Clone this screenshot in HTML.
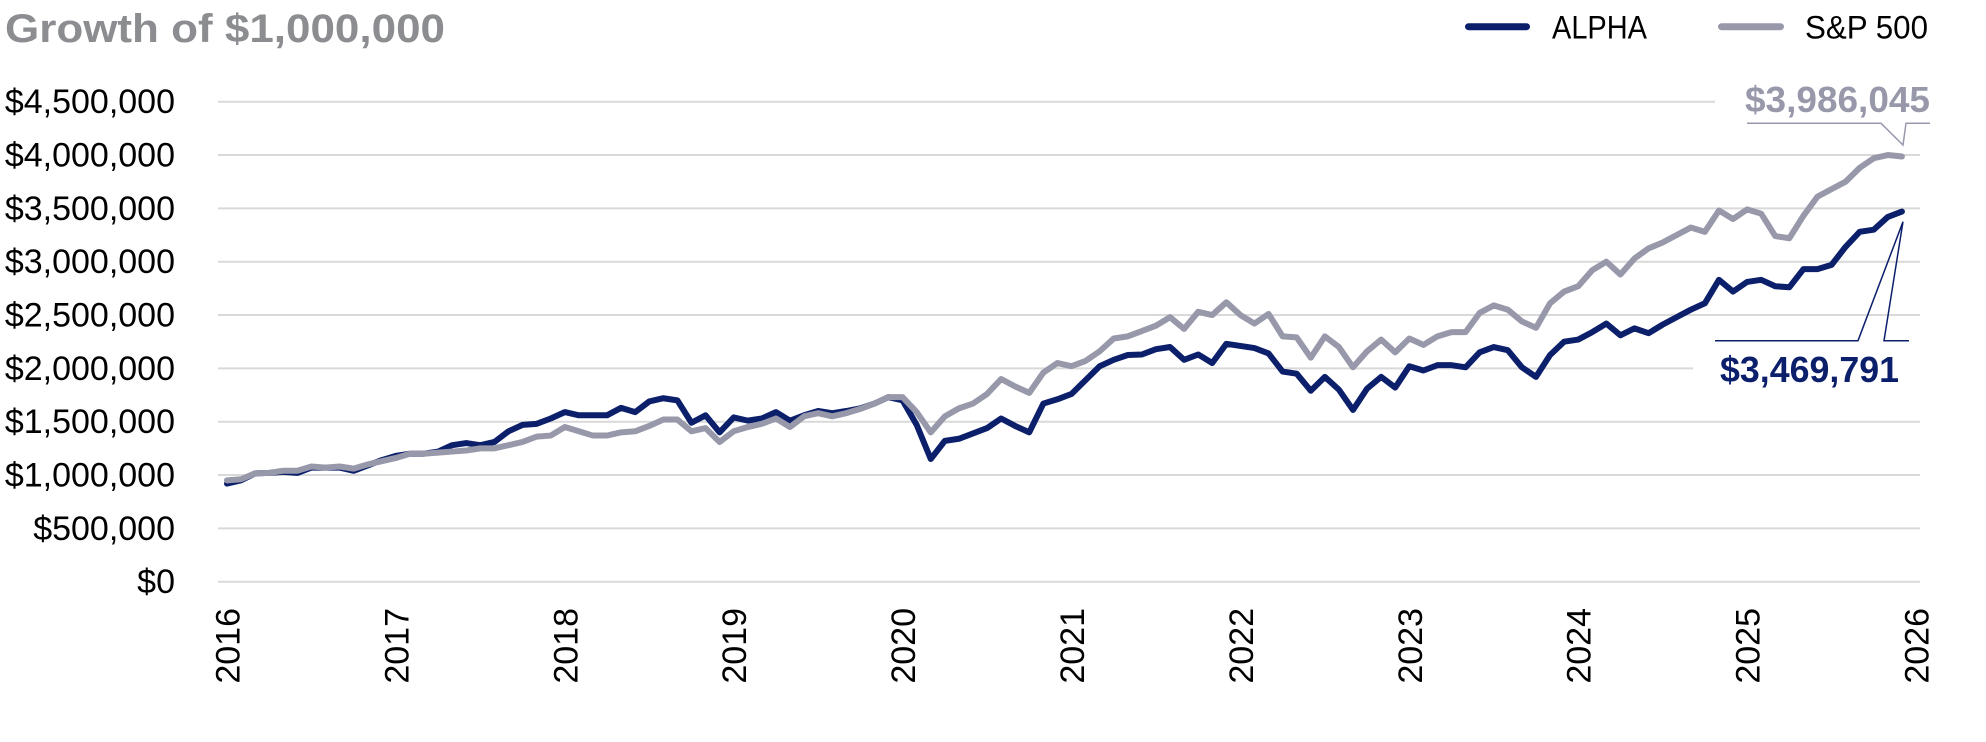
<!DOCTYPE html>
<html><head><meta charset="utf-8"><style>
html,body{margin:0;padding:0;background:#fff;}
svg{display:block;}
text{font-family:"Liberation Sans",Arial,sans-serif;}
</style></head><body>
<svg width="1986" height="742" viewBox="0 0 1986 742" xmlns="http://www.w3.org/2000/svg">
<rect width="1986" height="742" fill="#fff"/>
<!-- title -->
<text x="5" y="42" font-size="40" font-weight="bold" fill="#8b8d90" textLength="440" lengthAdjust="spacingAndGlyphs">Growth of $1,000,000</text>
<!-- legend -->
<line x1="1468.5" y1="26.7" x2="1526.5" y2="26.7" stroke="#0c1f6b" stroke-width="7" stroke-linecap="round"/>
<text x="1552" y="38.5" font-size="32" fill="#000" textLength="95" lengthAdjust="spacingAndGlyphs">ALPHA</text>
<line x1="1721.5" y1="26.7" x2="1780.5" y2="26.7" stroke="#9799ab" stroke-width="7" stroke-linecap="round"/>
<text x="1805" y="38.5" font-size="32" fill="#000" textLength="123" lengthAdjust="spacingAndGlyphs">S&amp;P 500</text>
<!-- gridlines -->
<g stroke="#d9d9d9" stroke-width="2">
<line x1="218" y1="101.7" x2="1715" y2="101.7"/>
<line x1="218" y1="155" x2="1920" y2="155"/>
<line x1="218" y1="208.4" x2="1920" y2="208.4"/>
<line x1="218" y1="261.7" x2="1920" y2="261.7"/>
<line x1="218" y1="315" x2="1920" y2="315"/>
<line x1="218" y1="368.4" x2="1693" y2="368.4"/>
<line x1="218" y1="421.7" x2="1920" y2="421.7"/>
<line x1="218" y1="475" x2="1920" y2="475"/>
<line x1="218" y1="528.4" x2="1920" y2="528.4"/>
<line x1="218" y1="581.7" x2="1920" y2="581.7"/>
</g>
<!-- y labels -->
<g font-size="34" fill="#000" text-anchor="end">
<text x="175" y="113.2">$4,500,000</text>
<text x="175" y="166.5">$4,000,000</text>
<text x="175" y="219.9">$3,500,000</text>
<text x="175" y="273.2">$3,000,000</text>
<text x="175" y="326.5">$2,500,000</text>
<text x="175" y="379.9">$2,000,000</text>
<text x="175" y="433.2">$1,500,000</text>
<text x="175" y="486.5">$1,000,000</text>
<text x="175" y="539.9">$500,000</text>
<text x="175" y="593.2">$0</text>
</g>
<!-- x labels -->
<g font-size="34" fill="#000" text-anchor="end">
<text transform="translate(239.5,608) rotate(-90)">2016</text>
<text transform="translate(408.4,608) rotate(-90)">2017</text>
<text transform="translate(577.3,608) rotate(-90)">2018</text>
<text transform="translate(746.2,608) rotate(-90)">2019</text>
<text transform="translate(915.1,608) rotate(-90)">2020</text>
<text transform="translate(1084,608) rotate(-90)">2021</text>
<text transform="translate(1252.9,608) rotate(-90)">2022</text>
<text transform="translate(1421.8,608) rotate(-90)">2023</text>
<text transform="translate(1590.7,608) rotate(-90)">2024</text>
<text transform="translate(1759.6,608) rotate(-90)">2025</text>
<text transform="translate(1928.5,608) rotate(-90)">2026</text>
</g>
<!-- series -->
<g transform="translate(227,581.7) scale(14.075,-106.67)" fill="none" stroke-linejoin="round" stroke-linecap="round">
<polyline vector-effect="non-scaling-stroke" stroke="#0c1f6b" stroke-width="6" points="0,0.92 1,0.95 2,1.016 3,1.02 4,1.03 5,1.02 6,1.07 7,1.07 8,1.07 9,1.04 10,1.09 11,1.14 12,1.18 13,1.20 14,1.20 15,1.22 16,1.28 17,1.30 18,1.28 19,1.31 20,1.41 21,1.47 22,1.48 23,1.53 24,1.59 25,1.56 26,1.56 27,1.56 28,1.63 29,1.59 30,1.69 31,1.72 32,1.70 33,1.49 34,1.56 35,1.40 36,1.54 37,1.51 38,1.53 39,1.59 40,1.51 41,1.56 42,1.60 43,1.58 44,1.60 45,1.625 46,1.67 47,1.73 48,1.70 49,1.47 50,1.15 51,1.32 52,1.34 53,1.39 54,1.44 55,1.53 56,1.46 57,1.40 58,1.67 59,1.71 60,1.76 61,1.89 62,2.02 63,2.08 64,2.125 65,2.13 66,2.18 67,2.20 68,2.08 69,2.13 70,2.05 71,2.23 72,2.21 73,2.19 74,2.14 75,1.97 76,1.95 77,1.79 78,1.92 79,1.80 80,1.61 81,1.81 82,1.92 83,1.82 84,2.02 85,1.98 86,2.03 87,2.03 88,2.01 89,2.15 90,2.20 91,2.17 92,2.01 93,1.92 94,2.125 95,2.25 96,2.27 97,2.34 98,2.42 99,2.31 100,2.375 101,2.33 102,2.41 103,2.48 104,2.55 105,2.61 106,2.83 107,2.72 108,2.81 109,2.83 110,2.77 111,2.76 112,2.93 113,2.93 114,2.97 115,3.14 116,3.28 117,3.30 118,3.42 119,3.47"/>
<polyline vector-effect="non-scaling-stroke" stroke="#9799ab" stroke-width="6" points="0,0.95 1,0.96 2,1.016 3,1.02 4,1.04 5,1.04 6,1.08 7,1.07 8,1.08 9,1.06 10,1.10 11,1.13 12,1.16 13,1.20 14,1.20 15,1.21 16,1.22 17,1.23 18,1.25 19,1.25 20,1.28 21,1.31 22,1.36 23,1.37 24,1.45 25,1.41 26,1.37 27,1.37 28,1.40 29,1.41 30,1.46 31,1.52 32,1.52 33,1.41 34,1.44 35,1.31 36,1.41 37,1.45 38,1.48 39,1.53 40,1.45 41,1.55 42,1.58 43,1.55 44,1.58 45,1.62 46,1.67 47,1.73 48,1.73 49,1.59 50,1.40 51,1.55 52,1.625 53,1.67 54,1.76 55,1.90 56,1.83 57,1.77 58,1.96 59,2.05 60,2.02 61,2.07 62,2.16 63,2.28 64,2.30 65,2.35 66,2.40 67,2.48 68,2.37 69,2.53 70,2.50 71,2.62 72,2.50 73,2.42 74,2.51 75,2.30 76,2.29 77,2.10 78,2.30 79,2.20 80,2.01 81,2.16 82,2.27 83,2.15 84,2.28 85,2.22 86,2.30 87,2.34 88,2.34 89,2.52 90,2.59 91,2.55 92,2.44 93,2.38 94,2.61 95,2.72 96,2.77 97,2.92 98,3.00 99,2.88 100,3.03 101,3.125 102,3.18 103,3.25 104,3.32 105,3.28 106,3.48 107,3.40 108,3.49 109,3.45 110,3.24 111,3.22 112,3.43 113,3.61 114,3.68 115,3.75 116,3.88 117,3.97 118,4.00 119,3.986"/>
</g>
<!-- annotations -->
<text x="1745" y="112" font-size="36" font-weight="bold" fill="#9799ab" textLength="185" lengthAdjust="spacingAndGlyphs">$3,986,045</text>
<polyline points="1747,123.3 1881,123.3 1903,145 1906,123.3 1930,123.3" fill="none" stroke="#9799ab" stroke-width="1.5"/>
<polyline points="1715,340.7 1858,340.7 1903,221.7 1884,340.7 1909,340.7" fill="none" stroke="#0c1f6b" stroke-width="1.5"/>
<text x="1720" y="382" font-size="36" font-weight="bold" fill="#0c1f6b" textLength="179" lengthAdjust="spacingAndGlyphs">$3,469,791</text>
</svg>
</body></html>
